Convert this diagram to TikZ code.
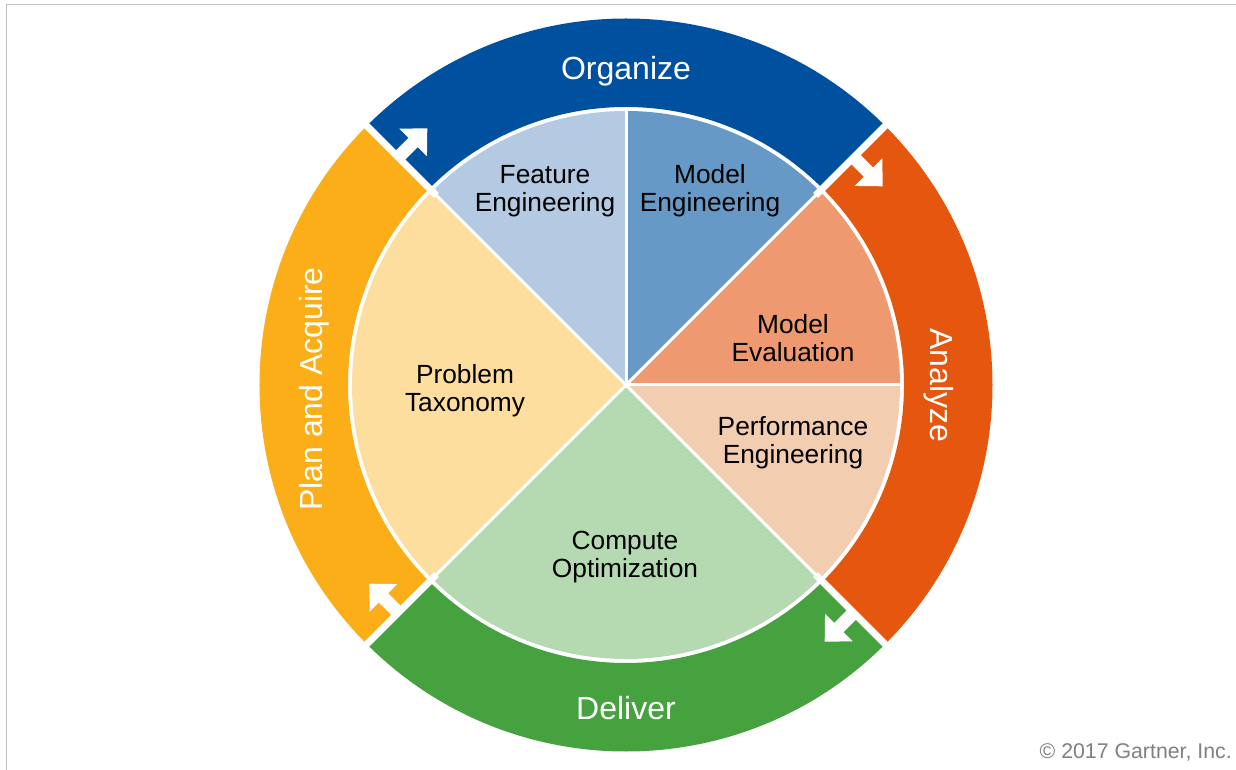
\documentclass[tikz,border=0pt]{standalone}
\usepackage{fontspec}
\setmainfont{Liberation Sans}
\definecolor{cOrg}{HTML}{0050A0}
\definecolor{cAna}{HTML}{E5560F}
\definecolor{cDel}{HTML}{46A13F}
\definecolor{cPlan}{HTML}{FBAE17}
\definecolor{cFeat}{HTML}{B3CAE2}
\definecolor{cMEng}{HTML}{6699C6}
\definecolor{cMEval}{HTML}{EE9970}
\definecolor{cPerf}{HTML}{F2CDB0}
\definecolor{cComp}{HTML}{B5DAB2}
\definecolor{cProb}{HTML}{FDDE9E}
\definecolor{cFrame}{HTML}{C0C0C0}
\definecolor{cCopy}{HTML}{808080}
\tikzset{
  piefont/.style={font=\fontsize{26.3}{28}\selectfont, align=center, text=black, inner sep=0pt},
  ringfont/.style={font=\fontsize{32}{36}\selectfont, text=white, inner sep=0pt},
  sepline/.style={draw=white, line width=3pt},
  gapline/.style={draw=white, line width=7pt},
  cwarrow/.style={fill=white, draw=none},
}
\newcommand{\ringseg}[3]{\fill[#3] (#1:366.5) arc[start angle=#1, end angle=#2, radius=366.5] -- (#2:278) arc[start angle=#2, end angle=#1, radius=278] -- cycle;}
\newcommand{\pieseg}[3]{\fill[#3] (0,0) -- (#1:274) arc[start angle=#1, end angle=#2, radius=274] -- cycle;}
\newcommand{\gaparrow}[1]{%
  \draw[gapline] (#1:268) -- (#1:376);
  \begin{scope}[shift={(#1:322)}, rotate=#1-90]
    \fill[cwarrow] (-2,-6.5) -- (21,-6.5) -- (21,-19.5) -- (41,0) -- (21,19.5) -- (21,6.5) -- (-2,6.5) -- cycle;
  \end{scope}}
\begin{document}
\begin{tikzpicture}[x=1pt,y=1pt]
\useasboundingbox (-626,-385) rectangle (610,385);
\fill[white] (-626,-385) rectangle (610,385);
\draw[cFrame, line width=1.5pt] (-619.5,-386) -- (-619.5,380.5) -- (611,380.5);
% ring
\ringseg{45}{135}{cOrg}
\ringseg{-45}{45}{cAna}
\ringseg{-135}{-45}{cDel}
\ringseg{135}{225}{cPlan}
% pie
\pieseg{90}{135}{cFeat}
\pieseg{45}{90}{cMEng}
\pieseg{0}{45}{cMEval}
\pieseg{-45}{0}{cPerf}
\pieseg{-135}{-45}{cComp}
\pieseg{135}{225}{cProb}
\foreach \a in {0,45,90,135,225,315} { \draw[sepline] (0,0) -- (\a:276); }
% gaps with arrows
\gaparrow{135}
\gaparrow{45}
\gaparrow{-45}
\gaparrow{-135}
% ring labels
\node[ringfont] (org) at (0,314) {Organize};
\node[ringfont, rotate=-90] (ana) at (313,0) {Analyze};
\node[ringfont] (del) at (0,-323) {Deliver};
\node[ringfont, rotate=90] (plan) at (-312,-4) {Plan and Acquire};
% pie labels
\node[piefont] (feat) at (-81,194) {Feature\\Engineering};
\node[piefont] (meng) at (84,194) {Model\\Engineering};
\node[piefont] (meval) at (167,47) {Model\\Evaluation};
\node[piefont] (perf) at (167,-58) {Performance\\Engineering};
\node[piefont] (comp) at (-1,-172) {Compute\\Optimization};
\node[piefont] (prob) at (-161,-6) {Problem\\Taxonomy};
% copyright
\node[font=\fontsize{21.3}{25}\selectfont, text=cCopy, anchor=east, inner sep=0pt] (copy) at (606,-367) {© 2017 Gartner, Inc.};
\end{tikzpicture}
\end{document}
